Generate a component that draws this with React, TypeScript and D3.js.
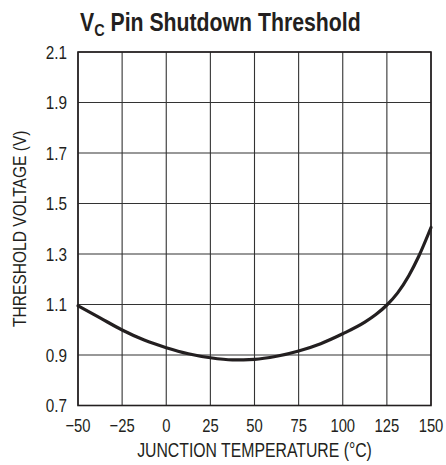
import { useEffect, useRef } from 'react';
import * as d3 from 'd3';

const temps = [-50, -37.5, -25, -12.5, 0, 12.5, 25, 37.5, 50, 62.5, 75, 87.5, 100, 112.5, 118.75, 125, 131, 137.5, 143, 150];
const volts = [1.095, 1.047, 0.999, 0.959, 0.929, 0.905, 0.889, 0.881, 0.883, 0.895, 0.916, 0.945, 0.984, 1.03, 1.06, 1.098, 1.145, 1.215, 1.29, 1.405];

const xTicks = [-50, -25, 0, 25, 50, 75, 100, 125, 150];
const yTicks = [0.7, 0.9, 1.1, 1.3, 1.5, 1.7, 1.9, 2.1];

const width = 446;
const height = 465;
const margin = { top: 52, right: 15, bottom: 59.5, left: 78 };
const font = "'Liberation Sans', Arial, sans-serif";
const ink = '#231f20';

const App = () => {
    const svgRef = useRef<SVGSVGElement>(null);

    useEffect(() => {
        d3.select(svgRef.current).selectAll('*').remove();
        const svg = d3.select(svgRef.current);

        const x = d3.scaleLinear().domain([-50, 150]).range([margin.left, width - margin.right]);
        const y = d3.scaleLinear().domain([0.7, 2.1]).range([height - margin.bottom, margin.top]);

        // grid
        svg.append('g')
            .selectAll('line')
            .data(xTicks)
            .join('line')
            .attr('x1', d => x(d))
            .attr('x2', d => x(d))
            .attr('y1', y(0.7))
            .attr('y2', y(2.1))
            .attr('stroke', '#333')
            .attr('stroke-width', 1.1);
        svg.append('g')
            .selectAll('line')
            .data(yTicks)
            .join('line')
            .attr('x1', x(-50))
            .attr('x2', x(150))
            .attr('y1', d => y(d))
            .attr('y2', d => y(d))
            .attr('stroke', '#333')
            .attr('stroke-width', 1.1);

        // frame
        svg.append('rect')
            .attr('x', x(-50))
            .attr('y', y(2.1))
            .attr('width', x(150) - x(-50))
            .attr('height', y(0.7) - y(2.1))
            .attr('fill', 'none')
            .attr('stroke', ink)
            .attr('stroke-width', 1.6);

        // curve
        const line = d3
            .line<number>()
            .x((_d, i) => x(temps[i]))
            .y(d => y(d))
            .curve(d3.curveMonotoneX);
        svg.append('path')
            .attr('d', line(volts))
            .attr('fill', 'none')
            .attr('stroke', ink)
            .attr('stroke-width', 3.2)
            .attr('stroke-linecap', 'round');

        // condensed text helper (no narrow font installed)
        const label = (px: number, py: number, sx: number, size: number, anchor: string, rot = 0) =>
            svg.append('text')
                .attr('transform', `translate(${px},${py}) rotate(${rot}) scale(${sx},1)`)
                .attr('text-anchor', anchor)
                .attr('font-family', font)
                .attr('font-size', size)
                .attr('fill', ink);

        // y tick labels
        yTicks.forEach(d => {
            label(67, y(d) + 6.5, 0.85, 18, 'end').text(d.toFixed(1));
        });

        // x tick labels
        xTicks.forEach(d => {
            label(x(d), 431.5, 0.8, 18.5, 'middle').text(d < 0 ? '\u2212' + Math.abs(d) : String(d));
        });

        // axis titles
        label((x(-50) + x(150)) / 2, 456.5, 0.79, 20, 'middle').text('JUNCTION TEMPERATURE (°C)');
        label(26, (y(0.7) + y(2.1)) / 2, 0.82, 19, 'middle', -90).text('THRESHOLD VOLTAGE (V)');

        // title
        const title = svg.append('text')
            .attr('transform', 'translate(80,31) scale(0.85,1)')
            .attr('font-family', font)
            .attr('font-weight', 'bold')
            .attr('font-size', 25)
            .attr('fill', ink);
        title.append('tspan').text('V');
        title.append('tspan').attr('font-size', 17).attr('dy', 5).text('C');
        title.append('tspan').attr('dy', -5).text(' Pin Shutdown Threshold');
    }, []);

    return (
        <svg
            ref={svgRef}
            width={width}
            height={height}
            style={{ position: 'absolute', left: 0, top: 0, background: '#fff' }}
        ></svg>
    );
};

export default App;
